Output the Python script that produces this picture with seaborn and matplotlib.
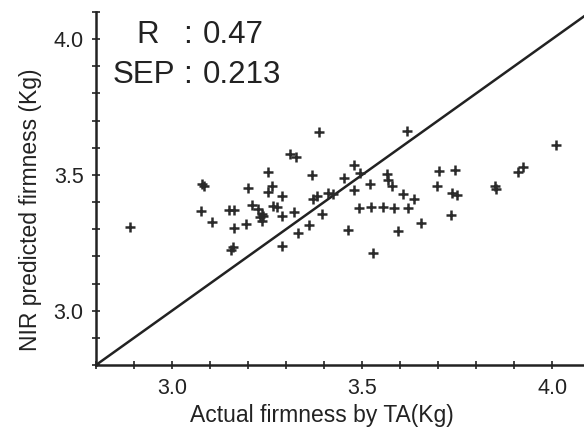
import matplotlib
matplotlib.use("Agg")
import matplotlib.pyplot as plt
from matplotlib.ticker import MultipleLocator
import seaborn as sns
import pandas as pd

# Measured firmness (texture analyser) vs NIR-predicted firmness, in Kg
actual_kg = [
    2.889, 3.080, 3.085, 3.076, 3.105, 3.150, 3.163, 3.200, 3.163, 3.195,
    3.155, 3.160, 3.387, 3.618, 3.310, 3.326, 3.253, 3.368, 3.479, 3.495,
    3.453, 3.566, 3.568, 3.579, 3.521, 3.479, 3.263, 3.253, 3.289, 3.371,
    3.382, 3.411, 3.424, 3.608, 3.210, 3.266, 3.276, 3.226, 3.237, 3.232,
    3.240, 3.321, 3.395, 3.289, 3.237, 3.361, 3.332, 3.289, 3.492, 3.524,
    3.555, 3.584, 3.621, 3.463, 3.595, 3.529, 4.011, 3.703, 3.745, 3.697,
    3.737, 3.750, 3.850, 3.853, 3.910, 3.924, 3.637, 3.734, 3.655,
]
predicted_kg = [
    3.309, 3.467, 3.458, 3.368, 3.328, 3.371, 3.371, 3.452, 3.305, 3.320,
    3.225, 3.235, 3.658, 3.662, 3.577, 3.566, 3.511, 3.500, 3.537, 3.507,
    3.489, 3.504, 3.482, 3.460, 3.467, 3.445, 3.460, 3.438, 3.423, 3.412,
    3.423, 3.434, 3.430, 3.430, 3.390, 3.386, 3.382, 3.375, 3.357, 3.346,
    3.349, 3.364, 3.357, 3.349, 3.331, 3.316, 3.287, 3.239, 3.379, 3.382,
    3.382, 3.379, 3.379, 3.298, 3.294, 3.213, 3.610, 3.515, 3.518, 3.460,
    3.434, 3.426, 3.460, 3.449, 3.511, 3.529, 3.412, 3.353, 3.324,
]
tick_values = [3.0, 3.5, 4.0]
stat_names = ["R", "SEP"]
stat_values = ["0.47", "0.213"]

sns.set_theme(style="white")
plt.rcParams["font.family"] = ["Liberation Sans", "DejaVu Sans"]

ink = "#222222"
W, H = 584, 430
fig = plt.figure(figsize=(W / 100, H / 100), dpi=100)
ax = fig.add_axes([96 / W, 65 / H, 488 / W, 353 / H])

df = pd.DataFrame({"actual": actual_kg, "predicted": predicted_kg})
sns.scatterplot(data=df, x="actual", y="predicted", marker="+", s=55,
                color="#2a2a2a", linewidth=1.8, ax=ax, zorder=3)

# 1:1 reference line
lo, hi = 2.8, 4.3
sns.lineplot(x=[lo, hi], y=[lo, hi], color=ink, linewidth=1.8, ax=ax,
             zorder=2)

ax.set_xlim(2.8, 4.084)
ax.set_ylim(2.8, 4.1)
ax.set_xticks(tick_values)
ax.set_yticks(tick_values)
ax.set_xticklabels([f"{v:.1f}" for v in tick_values])
ax.set_yticklabels([f"{v:.1f}" for v in tick_values])
ax.xaxis.set_minor_locator(MultipleLocator(0.1))
ax.yaxis.set_minor_locator(MultipleLocator(0.1))
ax.tick_params(which="both", direction="inout", length=6, width=1.2,
               color=ink, bottom=True, left=True)
ax.tick_params(which="major", labelsize=15.5, labelcolor=ink, pad=6)

for side in ["top", "right"]:
    ax.spines[side].set_visible(False)
for side in ["left", "bottom"]:
    ax.spines[side].set_color(ink)
    ax.spines[side].set_linewidth(1.8)

ax.set_xlabel("Actual firmness by TA(Kg)", fontsize=16.5, color=ink)
ax.set_ylabel("NIR predicted firmness (Kg)", fontsize=16.5, color=ink)
ax.xaxis.set_label_coords(0.463, -0.11)
ax.yaxis.set_label_coords(-0.11, 0.44)

# Statistics block in the upper left
rows_y = [43, 83]
for name, value, yb in zip(stat_names, stat_values, rows_y):
    name_x = 136 if name == "R" else 113
    fig.text(name_x / W, 1 - yb / H, name, fontsize=22.5, color=ink,
             va="baseline", ha="left")
    fig.text(187 / W, 1 - yb / H, ":", fontsize=22.5, color=ink,
             va="baseline", ha="center")
    fig.text(203 / W, 1 - yb / H, value, fontsize=22.5, color=ink,
             va="baseline", ha="left")

fig.savefig("out.png", dpi=100, facecolor="white")
